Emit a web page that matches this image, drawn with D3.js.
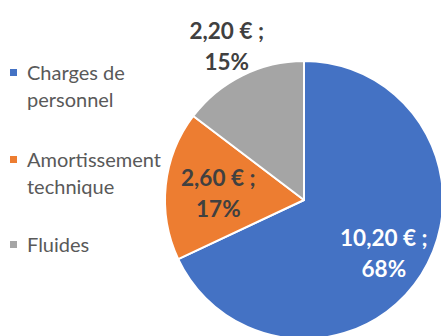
<!DOCTYPE html>
<html>
<head>
<meta charset="utf-8">
<script src="https://cdn.jsdelivr.net/npm/d3@7"></script>
<style>
  html, body { margin: 0; padding: 0; background: #fff; }
  svg { display: block; }
</style>
</head>
<body>
<svg id="chart" width="441" height="336"></svg>
<script>
// Cost breakdown (€ per unit)
const categories = ["Charges de personnel", "Amortissement technique", "Fluides"];
const legendLines = [["Charges de", "personnel"], ["Amortissement", "technique"], ["Fluides"]];
const values = [10.20, 2.60, 2.20];
const colors = ["#4472C4", "#ED7D31", "#A5A5A5"];

const width = 441, height = 336;
const cx = 304, cy = 200, radius = 139;
const fontFamily = "Lato, 'Open Sans', sans-serif";

const svg = d3.select("#chart");

const total = d3.sum(values);
const fmtEuro = v => d3.format(".2f")(v).replace(".", ",") + " €\u00a0;";
const fmtPct = v => Math.round(v / total * 100) + "%";

const pie = d3.pie().sort(null).value(d => d.value);
const data = categories.map((c, i) => ({ name: c, value: values[i], color: colors[i] }));
const arcs = pie(data);

const arc = d3.arc().innerRadius(0).outerRadius(radius);

const g = svg.append("g").attr("transform", `translate(${cx},${cy})`);

g.selectAll("path.slice")
  .data(arcs)
  .join("path")
  .attr("class", "slice")
  .attr("d", arc)
  .attr("fill", d => d.data.color)
  .attr("stroke", "#fff")
  .attr("stroke-width", 2)
  .attr("stroke-linejoin", "round");

// Data labels: inside for the large slices, outside for the smallest one
const labelRadius = [0.68, 0.62, 1.25];
const labelColor = ["#ffffff", "#404040", "#404040"];
const labels = g.selectAll("text.lbl")
  .data(arcs)
  .join("text")
  .attr("class", "lbl")
  .attr("font-family", fontFamily)
  .attr("font-weight", "bold")
  .attr("font-size", 22.5)
  .attr("text-anchor", "middle")
  .attr("fill", (d, i) => labelColor[i])
  .attr("transform", (d, i) => {
    const r = radius * labelRadius[i];
    const c = d3.arc().innerRadius(r).outerRadius(r).centroid(d);
    return `translate(${c[0]},${c[1]})`;
  });
labels.append("tspan").attr("x", 0).attr("y", -5).text(d => fmtEuro(d.data.value));
labels.append("tspan").attr("x", 0).attr("y", 26).text(d => fmtPct(d.data.value));

// Legend
const legendY = [73, 160, 245];
const legend = svg.append("g");
legendLines.forEach((lines, i) => {
  const y0 = legendY[i];
  legend.append("rect")
    .attr("x", 10).attr("y", y0 - 4)
    .attr("width", 7).attr("height", 7)
    .attr("fill", colors[i]);
  const t = legend.append("text")
    .attr("font-family", fontFamily)
    .attr("font-size", 20)
    .attr("fill", "#595959");
  lines.forEach((ln, j) => {
    t.append("tspan").attr("x", 27).attr("y", y0 + 7 + j * 26.5).text(ln);
  });
});
</script>
</body>
</html>
